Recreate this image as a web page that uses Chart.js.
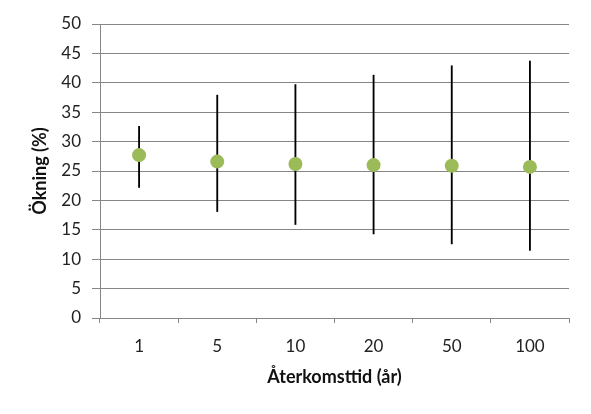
<!DOCTYPE html>
<html>
<head>
<meta charset="utf-8">
<script src="https://cdn.jsdelivr.net/npm/chart.js@4"></script>
<style>
    html, body { margin: 0; padding: 0; background: #fff; }
    #wrap { width: 591px; height: 414px; }
</style>
</head>
<body>
<div id="wrap"><canvas id="chart"></canvas></div>
<script>
// Return periods (years) and percentage increase with uncertainty range
const categories = ['1', '5', '10', '20', '50', '100'];
const meanValues = [27.7, 26.6, 26.2, 26.0, 25.9, 25.7];
const lowerValues = [22.2, 18.1, 15.9, 14.3, 12.6, 11.5];
const upperValues = [32.6, 37.9, 39.7, 41.3, 42.9, 43.7];
const yTicks = [0, 5, 10, 15, 20, 25, 30, 35, 40, 45, 50];

const gridColor = '#868686';
const fontFamily = 'Lato, "Open Sans", sans-serif';

const ctx = document.getElementById('chart').getContext('2d');

new Chart(ctx, {
    data: {
        labels: categories,
        datasets: [
            {
                type: 'line',
                label: 'Ökning',
                data: meanValues,
                showLine: false,
                pointRadius: 7,
                pointHoverRadius: 7,
                pointBackgroundColor: '#9BBB59',
                pointBorderColor: '#9BBB59',
                pointBorderWidth: 0,
                order: 0
            },
            {
                type: 'bar',
                label: 'Intervall',
                data: lowerValues.map((low, i) => [low, upperValues[i]]),
                backgroundColor: '#000',
                borderWidth: 0,
                barThickness: 1.2,
                order: 1
            }
        ]
    },
    options: {
        responsive: true,
        maintainAspectRatio: false,
        animation: false,
        layout: {
            padding: { top: 24, right: 22, bottom: 0, left: 0 }
        },
        plugins: {
            legend: { display: false },
            tooltip: { enabled: false }
        },
        scales: {
            x: {
                type: 'category',
                offset: true,
                afterFit: scale => { scale.height = 96; },
                grid: {
                    offset: true,
                    drawOnChartArea: false,
                    drawTicks: true,
                    tickLength: 5,
                    color: gridColor
                },
                border: { color: gridColor },
                ticks: {
                    color: '#222',
                    padding: 13,
                    font: { family: fontFamily, size: 17 }
                },
                title: {
                    display: true,
                    text: 'Återkomsttid (år)',
                    color: '#111',
                    padding: { top: 0, bottom: 26 },
                    font: { family: fontFamily, size: 18, weight: 'bold' }
                }
            },
            y: {
                min: 0,
                max: 50,
                afterFit: scale => { scale.width = 100; },
                afterBuildTicks: scale => {
                    scale.ticks = yTicks.map(v => ({ value: v }));
                },
                grid: {
                    color: gridColor,
                    tickLength: 8
                },
                border: { color: gridColor },
                ticks: {
                    color: '#222',
                    padding: 11,
                    font: { family: fontFamily, size: 17 }
                },
                title: {
                    display: true,
                    text: 'Ökning (%)',
                    color: '#111',
                    padding: { top: 29, bottom: 0 },
                    font: { family: fontFamily, size: 18, weight: 'bold' }
                }
            }
        }
    }
});
</script>
</body>
</html>
